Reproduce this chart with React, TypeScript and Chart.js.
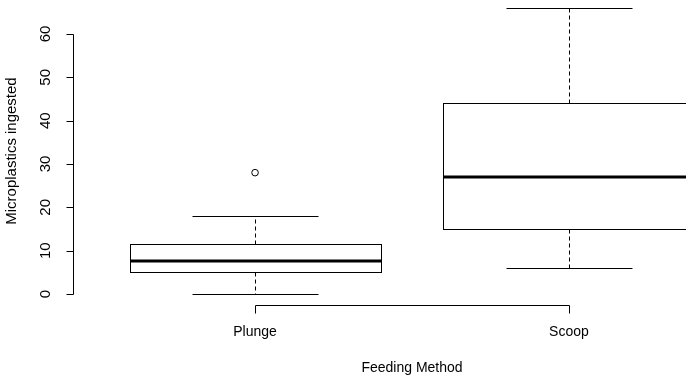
import React, { useEffect, useRef } from 'react';
import { Chart, registerables } from 'chart.js';

Chart.register(...registerables);

// Microplastics ingested per bird, summarised by feeding method
const categories = ['Plunge', 'Scoop'];
const lowerWhisker = [0, 6];
const lowerQuartile = [5, 15];
const medians = [7.5, 27];
const upperQuartile = [11.5, 44];
const upperWhisker = [18, 66];
const outlierValues = [[28], []];
const yTickValues = [0, 10, 20, 30, 40, 50, 60];

const xTitle = 'Feeding Method';
const yTitle = 'Microplastics ingested';

const FONT_FAMILY = '"Liberation Sans", Arial, Helvetica, sans-serif';
const BOX_HALF = 0.4;
const CAP_HALF = 0.2;
// the device is slightly taller than wide: text is stretched vertically
const V_STRETCH = 1.07;

// Base-graphics style limits: data range padded by 4% on each side
const xLo = 0.5 - 0.04 * categories.length;
const xHi = categories.length + 0.5 + 0.04 * categories.length;
const yDataMax = Math.max(...upperWhisker, ...outlierValues.flat());
const yDataMin = Math.min(...lowerWhisker);
const yPad = 0.04 * (yDataMax - yDataMin);

const snap = (v: number) => Math.round(v) + 0.5;

function drawHText(ctx: CanvasRenderingContext2D, text: string, x: number, y: number) {
  ctx.save();
  ctx.translate(x, y);
  ctx.scale(1, V_STRETCH);
  ctx.fillText(text, 0, 0);
  ctx.restore();
}

function drawVText(ctx: CanvasRenderingContext2D, text: string, x: number, y: number) {
  ctx.save();
  ctx.translate(x, y);
  ctx.rotate(-Math.PI / 2);
  ctx.scale(V_STRETCH, 1);
  ctx.fillText(text, 0, 0);
  ctx.restore();
}

const boxplotPlugin = {
  id: 'baseBoxplot',
  beforeDatasetsDraw(chart: any) {
    const { ctx } = chart;
    const xs = chart.scales.x;
    const ys = chart.scales.y;
    ctx.save();
    ctx.strokeStyle = '#000';
    categories.forEach((_, i) => {
      const pos = i + 1;
      const cx = snap(xs.getPixelForValue(pos));
      const bl = snap(xs.getPixelForValue(pos - BOX_HALF));
      const br = snap(xs.getPixelForValue(pos + BOX_HALF));
      const cl = snap(xs.getPixelForValue(pos - CAP_HALF));
      const cr = snap(xs.getPixelForValue(pos + CAP_HALF));
      const yLw = snap(ys.getPixelForValue(lowerWhisker[i]));
      const yQ1 = snap(ys.getPixelForValue(lowerQuartile[i]));
      const yMed = ys.getPixelForValue(medians[i]);
      const yQ3 = snap(ys.getPixelForValue(upperQuartile[i]));
      const yUw = snap(ys.getPixelForValue(upperWhisker[i]));

      // dashed whiskers
      ctx.lineWidth = 1;
      ctx.setLineDash([4, 3]);
      ctx.beginPath();
      ctx.moveTo(cx, yQ3);
      ctx.lineTo(cx, yUw);
      ctx.moveTo(cx, yQ1);
      ctx.lineTo(cx, yLw);
      ctx.stroke();
      ctx.setLineDash([]);

      // whisker caps
      ctx.beginPath();
      ctx.moveTo(cl, yUw);
      ctx.lineTo(cr, yUw);
      ctx.moveTo(cl, yLw);
      ctx.lineTo(cr, yLw);
      ctx.stroke();

      // box
      ctx.fillStyle = '#fff';
      ctx.fillRect(bl, yQ3, br - bl, yQ1 - yQ3);
      ctx.strokeRect(bl, yQ3, br - bl, yQ1 - yQ3);

      // median
      ctx.lineWidth = 3;
      ctx.beginPath();
      ctx.moveTo(bl, Math.round(yMed));
      ctx.lineTo(br, Math.round(yMed));
      ctx.stroke();
    });
    ctx.restore();
  },
  afterDraw(chart: any) {
    const { ctx, chartArea } = chart;
    const xs = chart.scales.x;
    const ys = chart.scales.y;
    const tickLen = 7;
    ctx.save();
    ctx.strokeStyle = '#000';
    ctx.fillStyle = '#000';
    ctx.lineWidth = 1;
    ctx.font = `14px ${FONT_FAMILY}`;

    // left axis
    const ax = snap(chartArea.left);
    const y0 = snap(ys.getPixelForValue(yTickValues[0]));
    const y1 = snap(ys.getPixelForValue(yTickValues[yTickValues.length - 1]));
    ctx.beginPath();
    ctx.moveTo(ax, y0);
    ctx.lineTo(ax, y1);
    yTickValues.forEach((v) => {
      const py = snap(ys.getPixelForValue(v));
      ctx.moveTo(ax, py);
      ctx.lineTo(ax - tickLen, py);
    });
    ctx.stroke();
    ctx.textAlign = 'center';
    ctx.textBaseline = 'alphabetic';
    yTickValues.forEach((v) => {
      drawVText(ctx, String(v), chartArea.left - 23, ys.getPixelForValue(v));
    });

    // bottom axis
    const ay = snap(chartArea.bottom);
    const xa = snap(xs.getPixelForValue(1));
    const xb = snap(xs.getPixelForValue(categories.length));
    ctx.beginPath();
    ctx.moveTo(xa, ay);
    ctx.lineTo(xb, ay);
    categories.forEach((_, i) => {
      const px = snap(xs.getPixelForValue(i + 1));
      ctx.moveTo(px, ay);
      ctx.lineTo(px, ay + tickLen + 1);
    });
    ctx.stroke();
    categories.forEach((c, i) => {
      drawHText(ctx, c, xs.getPixelForValue(i + 1), chartArea.bottom + 31);
    });

    // axis titles
    const midX = (chartArea.left + chartArea.right) / 2;
    const midY = (chartArea.top + chartArea.bottom) / 2;
    drawHText(ctx, xTitle, midX, chartArea.bottom + 67);
    drawVText(ctx, yTitle, chartArea.left - 57, midY);

    ctx.restore();
  },
};

const CANVAS_W = 780;
const CANVAS_H = 400;
const CANVAS_TOP = -20;

export default function App() {
  const canvasRef = useRef<HTMLCanvasElement | null>(null);

  useEffect(() => {
    document.body.style.margin = '0';
    const canvas = canvasRef.current;
    if (!canvas) return;
    const outliers = categories.flatMap((_, i) =>
      outlierValues[i].map((v) => ({ x: i + 1, y: v }))
    );
    const chart = new Chart(canvas, {
      type: 'scatter',
      data: {
        datasets: [
          {
            label: 'Outliers',
            data: outliers,
            pointStyle: 'circle',
            pointRadius: 3.3,
            pointHoverRadius: 3.3,
            borderColor: '#000',
            backgroundColor: 'rgba(255,255,255,0)',
            borderWidth: 1,
          },
        ],
      },
      options: {
        responsive: false,
        animation: false,
        devicePixelRatio: 1,
        layout: {
          padding: { left: 73, right: 29, top: 16.6, bottom: 74.6 },
        },
        plugins: {
          legend: { display: false },
          tooltip: { enabled: false },
          title: { display: false },
        },
        scales: {
          x: { type: 'linear', min: xLo, max: xHi, display: false },
          y: { type: 'linear', min: yDataMin - yPad, max: yDataMax + yPad, display: false },
        },
      },
      plugins: [boxplotPlugin],
    });
    return () => chart.destroy();
  }, []);

  return (
    <div
      style={{
        position: 'absolute',
        left: 0,
        top: 0,
        width: 686,
        height: 380,
        overflow: 'hidden',
        background: '#fff',
      }}
    >
      <canvas
        ref={canvasRef}
        width={CANVAS_W}
        height={CANVAS_H}
        style={{ position: 'absolute', left: 0, top: CANVAS_TOP, width: CANVAS_W, height: CANVAS_H }}
      />
    </div>
  );
}
